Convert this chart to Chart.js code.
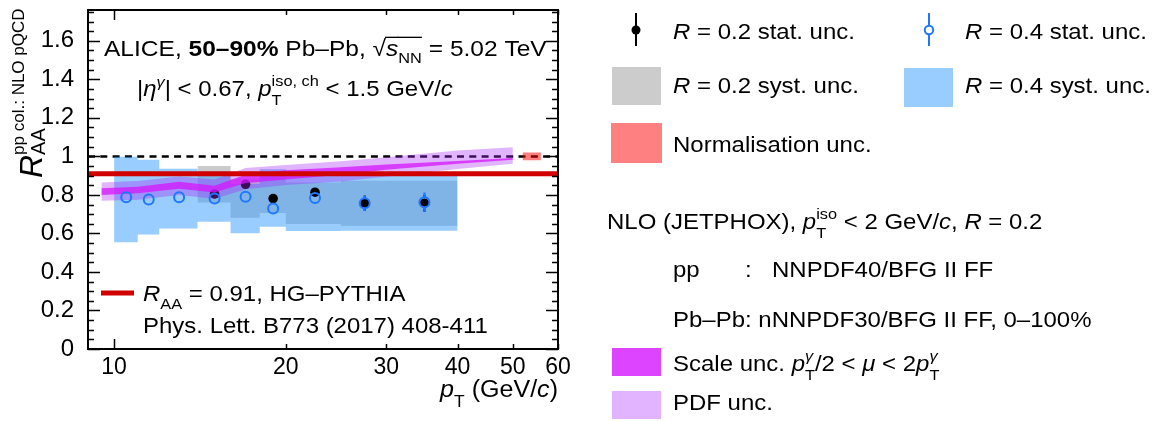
<!DOCTYPE html>
<html>
<head>
<meta charset="utf-8">
<title>Isolated photon RAA, 50-90% Pb-Pb</title>
<script src="https://cdn.jsdelivr.net/npm/chart.js@4.4.1/dist/chart.umd.min.js"></script>
<style>
    html, body { margin: 0; padding: 0; background: #fff; }
    canvas { display: block; }
</style>
</head>
<body>
<canvas id="raaChart" width="1161" height="421"></canvas>
<script>
// Isolated photon R_AA vs pT, 50-90% Pb-Pb

// Axis setup
const xRange = [9, 60];
const yRange = [0, 1.76];
const xTicks = [10, 20, 30, 40, 50, 60];
const yTicks = [0, 0.2, 0.4, 0.6, 0.8, 1, 1.2, 1.4, 1.6];

// R = 0.4 measurement
const binEdges04 = [10, 11, 12, 14, 16, 18, 20, 25, 30, 40];
const pt04 = [10.5, 11.5, 13, 15, 17, 19, 22.5, 27.5, 35];
const raa04 = [0.788, 0.776, 0.788, 0.781, 0.791, 0.729, 0.784, 0.757, 0.762];
const stat04 = [0.012, 0.012, 0.012, 0.014, 0.015, 0.018, 0.02, 0.04, 0.05];
const syst04 = [0.25, 0.222, 0.194, 0.155, 0.13, 0.128, 0.149, 0.145, 0.148];

// R = 0.2 measurement
const binEdges02 = [14, 16, 18, 20, 25, 30, 40];
const pt02 = [15, 17, 19, 22.5, 27.5, 35];
const raa02 = [0.805, 0.855, 0.781, 0.814, 0.757, 0.757];
const stat02 = [0.015, 0.018, 0.02, 0.02, 0.04, 0.045];
const syst02 = [0.125, 0.095, 0.1, 0.108, 0.108, 0.117];

// NLO JETPHOX ratio: scale and PDF bands
const nloPt = [9.5, 11, 13, 15, 17, 20, 25, 30, 40, 50];
const scaleLow = [0.80, 0.808, 0.832, 0.812, 0.862, 0.88, 0.905, 0.93, 0.962, 0.982];
const scaleHigh = [0.835, 0.842, 0.868, 0.848, 0.905, 0.928, 0.944, 0.958, 0.976, 0.992];
const pdfLow = [0.77, 0.775, 0.80, 0.78, 0.83, 0.852, 0.87, 0.895, 0.935, 0.962];
const pdfHigh = [0.865, 0.872, 0.895, 0.88, 0.94, 0.955, 0.975, 0.995, 1.03, 1.048];

// Reference levels
const unity = 1;
const hgPythiaRaa = 0.91;
const normUnc = 0.02;
const normPt = [52, 56];

const FONT = '"Liberation Sans", Arial, Helvetica, sans-serif';
const TEXT_SX = 1.09;
// error bars stop at the marker edge (in R_AA units)
const MARKER_GAP = 0.027;

const colors = {
    blue: '#1f77ff',
    systBlue: 'rgba(51, 153, 255, 0.5)',
    systGray: '#cccccc',
    norm: 'rgba(255, 0, 0, 0.5)',
    pdf: 'rgba(166, 41, 255, 0.35)',
    scale: 'rgba(214, 20, 255, 0.75)',
    red: '#d00000'
};

// step outline of boxes: one point per lower edge plus the last upper edge
function boxEdge(edges, vals, unc, sign) {
    return edges.map((e, i) => {
        const k = Math.min(i, vals.length - 1);
        return { x: e, y: vals[k] + sign * unc[k] };
    });
}

// vertical error bars separated by gaps, skipping the marker body
function errorBars(pts, vals, unc) {
    const out = [];
    pts.forEach((p, i) => {
        if (unc[i] <= MARKER_GAP) return;
        out.push({ x: p, y: vals[i] - unc[i] }, { x: p, y: vals[i] - MARKER_GAP }, { x: p, y: null });
        out.push({ x: p, y: vals[i] + MARKER_GAP }, { x: p, y: vals[i] + unc[i] }, { x: p, y: null });
    });
    return out;
}

function hLine(y) {
    return [{ x: xRange[0], y: y }, { x: xRange[1], y: y }];
}

const datasets = [
    // dashed unity line
    { data: hLine(unity), borderColor: '#000', borderWidth: 2.5, borderDash: [7, 5.3], pointRadius: 0, order: 20 },
    // R=0.2 systematic boxes
    { data: boxEdge(binEdges02, raa02, syst02, 1), stepped: 'after', borderWidth: 0, pointRadius: 0, order: 19 },
    { data: boxEdge(binEdges02, raa02, syst02, -1), stepped: 'after', borderWidth: 0, pointRadius: 0, fill: '-1', backgroundColor: colors.systGray, order: 18 },
    // R=0.4 systematic boxes
    { data: boxEdge(binEdges04, raa04, syst04, 1), stepped: 'after', borderWidth: 0, pointRadius: 0, order: 17 },
    { data: boxEdge(binEdges04, raa04, syst04, -1), stepped: 'after', borderWidth: 0, pointRadius: 0, fill: '-1', backgroundColor: colors.systBlue, order: 16 },
    // normalisation box
    { data: normPt.map(p => ({ x: p, y: unity + normUnc })), borderWidth: 0, pointRadius: 0, order: 15 },
    { data: normPt.map(p => ({ x: p, y: unity - normUnc })), borderWidth: 0, pointRadius: 0, fill: '-1', backgroundColor: colors.norm, order: 14 },
    // R=0.2 stat. errors and points
    { data: errorBars(pt02, raa02, stat02), borderColor: '#000', borderWidth: 2, pointRadius: 0, spanGaps: false, order: 13 },
    { data: pt02.map((p, i) => ({ x: p, y: raa02[i] })), showLine: false, pointRadius: 4.8, pointBackgroundColor: '#000', pointBorderColor: '#000', pointBorderWidth: 0, order: 12 },
    // PDF band
    { data: nloPt.map((p, i) => ({ x: p, y: pdfHigh[i] })), borderWidth: 0, pointRadius: 0, order: 11 },
    { data: nloPt.map((p, i) => ({ x: p, y: pdfLow[i] })), borderWidth: 0, pointRadius: 0, fill: '-1', backgroundColor: colors.pdf, order: 10 },
    // scale band
    { data: nloPt.map((p, i) => ({ x: p, y: scaleHigh[i] })), borderWidth: 0, pointRadius: 0, order: 9 },
    { data: nloPt.map((p, i) => ({ x: p, y: scaleLow[i] })), borderWidth: 0, pointRadius: 0, fill: '-1', backgroundColor: colors.scale, order: 8 },
    // R=0.4 stat. errors and points
    { data: errorBars(pt04, raa04, stat04), borderColor: colors.blue, borderWidth: 2, pointRadius: 0, spanGaps: false, order: 7 },
    { data: pt04.map((p, i) => ({ x: p, y: raa04[i] })), showLine: false, pointRadius: 5, pointBackgroundColor: 'transparent', pointBorderColor: colors.blue, pointBorderWidth: 2, order: 6 },
    // HG-PYTHIA level
    { data: hLine(hgPythiaRaa), borderColor: colors.red, borderWidth: 5, pointRadius: 0, order: 0 }
];

// mixed-style text: plain strings or {t, i, b, s} pieces, {sub, sup} stacks
function fontStr(p, size) {
    return (p.i ? 'italic ' : '') + (p.b ? 'bold ' : '') + (p.s || size) + 'px ' + FONT;
}

function pieceWidth(ctx, p, size) {
    if (p.sub !== undefined || p.sup !== undefined) {
        let w = 0;
        if (p.sub) { ctx.font = fontStr({ s: p.subS || Math.round(size * 0.68) }, size); w = Math.max(w, ctx.measureText(p.sub).width); }
        if (p.sup) { ctx.font = fontStr({ s: p.supS || Math.round(size * 0.68), i: p.supI }, size); w = Math.max(w, ctx.measureText(p.sup).width); }
        return w;
    }
    ctx.font = fontStr(p, size);
    return ctx.measureText(p.t).width;
}

function drawRich(ctx, x, y, parts, size, align, sx) {
    size = size || 22;
    sx = sx || TEXT_SX;
    const pieces = parts.map(p => typeof p === 'string' ? { t: p } : p);
    let total = 0;
    pieces.forEach(p => { total += pieceWidth(ctx, p, size); });
    ctx.save();
    ctx.translate(x, y);
    ctx.scale(sx, 1);
    ctx.fillStyle = '#000';
    ctx.strokeStyle = '#000';
    ctx.textBaseline = 'alphabetic';
    ctx.textAlign = 'left';
    let cx = align === 'right' ? -total : 0;
    pieces.forEach(p => {
        const w = pieceWidth(ctx, p, size);
        if (p.sub !== undefined || p.sup !== undefined) {
            if (p.sub) {
                ctx.font = fontStr({ s: p.subS || Math.round(size * 0.68) }, size);
                ctx.fillText(p.sub, cx, p.subDy !== undefined ? p.subDy : size * 0.36);
            }
            if (p.sup) {
                ctx.font = fontStr({ s: p.supS || Math.round(size * 0.68), i: p.supI }, size);
                ctx.fillText(p.sup, cx, p.supDy !== undefined ? p.supDy : -size * 0.42);
            }
        } else {
            ctx.font = fontStr(p, size);
            ctx.fillText(p.t, cx, p.dy || 0);
        }
        if (p.ov) {
            ctx.lineWidth = 1.3;
            ctx.beginPath();
            ctx.moveTo(cx - 1, -size * 0.83);
            ctx.lineTo(cx + w, -size * 0.83);
            ctx.stroke();
        }
        cx += w;
    });
    ctx.restore();
}

function swatch(ctx, x0, y0, x1, y1, color) {
    ctx.fillStyle = color;
    ctx.fillRect(x0, y0, x1 - x0, y1 - y0);
}

const framePlugin = {
    id: 'frameAndText',
    afterDraw(chart) {
        const ctx = chart.ctx;
        const area = chart.chartArea;
        const xs = chart.scales.x;
        const ys = chart.scales.y;
        ctx.save();

        // frame
        ctx.strokeStyle = '#000';
        ctx.lineWidth = 2;
        ctx.strokeRect(area.left, area.top, area.right - area.left, area.bottom - area.top);

        // y ticks on both sides, minor every 0.05
        ctx.lineWidth = 1.5;
        for (let i = 0; i * 0.05 <= yRange[1]; i++) {
            const py = Math.round(ys.getPixelForValue(i * 0.05)) + 0.5;
            const len = i % 4 === 0 ? 12 : 6;
            ctx.beginPath();
            ctx.moveTo(area.left, py); ctx.lineTo(area.left + len, py);
            ctx.moveTo(area.right, py); ctx.lineTo(area.right - len, py);
            ctx.stroke();
        }
        // x ticks bottom and top
        xTicks.forEach(v => {
            const px = Math.round(xs.getPixelForValue(v)) + 0.5;
            const len = v === 10 ? 10 : 5;
            ctx.beginPath();
            ctx.moveTo(px, area.bottom); ctx.lineTo(px, area.bottom - len);
            ctx.moveTo(px, area.top); ctx.lineTo(px, area.top + len);
            ctx.stroke();
        });

        // labels inside the frame
        drawRich(ctx, 104, 56, ['ALICE, ', { t: '50\u201390%', b: true }, ' Pb\u2013Pb, ', '\u221A',
            { t: 's', i: true, ov: true }, { sub: 'NN', ov: true, subDy: 7 }, ' = 5.02 TeV'], 22.5);
        drawRich(ctx, 137, 96, ['|', { t: '\u03B7', i: true }, { sup: '\u03B3', supI: true, supDy: -9 },
            '| < 0.67, ', { t: 'p', i: true }, { sub: 'T', sup: 'iso, ch', subDy: 9, supDy: -10 },
            ' < 1.5 GeV/', { t: 'c', i: true }], 22);

        ctx.strokeStyle = colors.red;
        ctx.lineWidth = 5;
        ctx.beginPath();
        ctx.moveTo(101, 293); ctx.lineTo(134, 293);
        ctx.stroke();
        drawRich(ctx, 143, 301, [{ t: 'R', i: true }, { sub: 'AA', subDy: 8 }, ' = 0.91, HG\u2013PYTHIA'], 22);
        drawRich(ctx, 143, 333, ['Phys. Lett. B773 (2017) 408-411'], 22);

        // axis titles
        drawRich(ctx, 558, 397, [{ t: 'p', i: true }, { sub: 'T', subDy: 10, subS: 16 }, ' (GeV/', { t: 'c', i: true }, ')'], 23, 'right');
        ctx.save();
        ctx.translate(42, 178);
        ctx.rotate(-Math.PI / 2);
        drawRich(ctx, 0, 0, [{ t: 'R', i: true, s: 32 },
            { sub: 'AA', subS: 20, subDy: 3, sup: 'pp col.: NLO pQCD', supS: 17, supDy: -18 }], 32, 'left', 1);
        ctx.restore();

        // legend, right column
        ctx.strokeStyle = '#000';
        ctx.lineWidth = 2;
        ctx.beginPath(); ctx.moveTo(636, 13); ctx.lineTo(636, 46); ctx.stroke();
        ctx.fillStyle = '#000';
        ctx.beginPath(); ctx.arc(636, 30, 4.5, 0, Math.PI * 2); ctx.fill();
        drawRich(ctx, 673, 39, [{ t: 'R', i: true }, ' = 0.2 stat. unc.'], 22);

        ctx.strokeStyle = colors.blue;
        ctx.beginPath(); ctx.moveTo(929, 13); ctx.lineTo(929, 46); ctx.stroke();
        ctx.fillStyle = '#fff';
        ctx.beginPath(); ctx.arc(929, 30, 4.2, 0, Math.PI * 2); ctx.fill(); ctx.stroke();
        drawRich(ctx, 965, 39, [{ t: 'R', i: true }, ' = 0.4 stat. unc.'], 22);

        swatch(ctx, 612, 67, 661, 105, '#cccccc');
        drawRich(ctx, 673, 93, [{ t: 'R', i: true }, ' = 0.2 syst. unc.'], 22);
        swatch(ctx, 904, 68, 953, 107, '#99ccff');
        drawRich(ctx, 965, 93, [{ t: 'R', i: true }, ' = 0.4 syst. unc.'], 22);
        swatch(ctx, 611, 123, 662, 163, '#ff8080');
        drawRich(ctx, 673, 152, ['Normalisation unc.'], 22);

        drawRich(ctx, 607, 229, ['NLO (JETPHOX), ', { t: 'p', i: true }, { sub: 'T', sup: 'iso', subDy: 9, supDy: -10 },
            ' < 2 GeV/', { t: 'c', i: true }, ', ', { t: 'R', i: true }, ' = 0.2'], 22);
        drawRich(ctx, 673, 277, ['pp'], 22);
        drawRich(ctx, 745, 277, [':'], 22);
        drawRich(ctx, 772, 277, ['NNPDF40/BFG II FF'], 22);
        drawRich(ctx, 673, 327, ['Pb\u2013Pb: nNNPDF30/BFG II FF, 0\u2013100%'], 22);

        swatch(ctx, 612, 348, 661, 376, '#dd44ff');
        drawRich(ctx, 673, 371, ['Scale unc. ', { t: 'p', i: true }, { sub: 'T', sup: '\u03B3', supI: true, subDy: 9, supDy: -10 },
            '/2 < ', { t: '\u03BC', i: true }, ' < 2', { t: 'p', i: true }, { sub: 'T', sup: '\u03B3', supI: true, subDy: 9, supDy: -10 }], 22);
        swatch(ctx, 612, 391, 661, 419, '#e2b4ff');
        drawRich(ctx, 673, 410, ['PDF unc.'], 22);

        ctx.restore();
    }
};

const chart = new Chart(document.getElementById('raaChart'), {
    type: 'line',
    data: { datasets: datasets },
    options: {
        responsive: false,
        animation: false,
        devicePixelRatio: 1,
        layout: { padding: { left: 0, top: 10, right: 603, bottom: 0 } },
        elements: { line: { tension: 0 } },
        scales: {
            x: {
                type: 'logarithmic',
                min: xRange[0],
                max: xRange[1],
                afterBuildTicks: scale => { scale.ticks = xTicks.map(v => ({ value: v })); },
                afterFit: scale => {
                    scale.height = 72;
                    scale.paddingLeft = 0;
                    scale.paddingRight = 0;
                },
                grid: { display: false },
                border: { display: false },
                ticks: {
                    autoSkip: false,
                    maxRotation: 0,
                    padding: -3,
                    color: '#000',
                    font: { family: FONT, size: 23 },
                    callback: v => String(v)
                }
            },
            y: {
                type: 'linear',
                min: yRange[0],
                max: yRange[1],
                afterBuildTicks: scale => { scale.ticks = yTicks.map(v => ({ value: v })); },
                afterFit: scale => {
                    scale.width = 88;
                    scale.paddingTop = 0;
                    scale.paddingBottom = 0;
                },
                grid: { display: false },
                border: { display: false },
                ticks: {
                    padding: 6,
                    color: '#000',
                    font: { family: FONT, size: 24 },
                    callback: v => String(Math.round(v * 10) / 10)
                }
            }
        },
        plugins: {
            legend: { display: false },
            tooltip: { enabled: false }
        }
    },
    plugins: [framePlugin]
});
</script>
</body>
</html>
